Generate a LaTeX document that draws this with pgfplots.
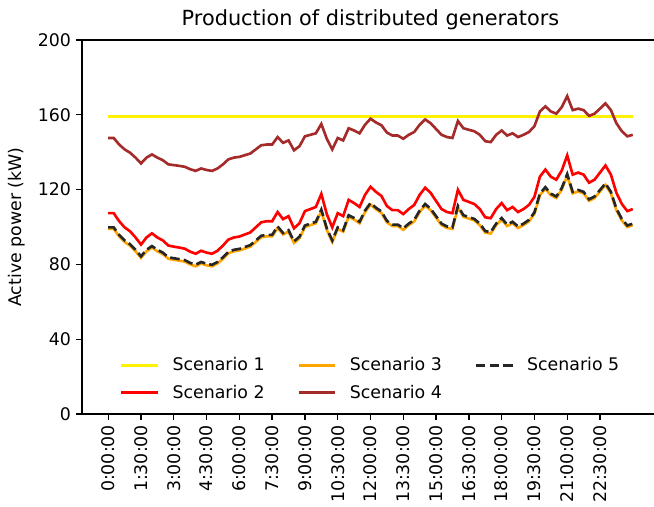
\documentclass[border=0pt]{standalone}
\usepackage{pgfplots}
\pgfplotsset{compat=1.18}
\usepackage{pgfplotstable}
\usepackage{fontspec}
\setmainfont{DejaVu Sans}

\definecolor{mplorange}{HTML}{FFA500}
\definecolor{mplbrown}{HTML}{A52A2A}

\pgfplotstableread{
i s1 s2 s3 s4 s5
0 159 107.4 99 147.6 99.8
1 159 107.4 99 147.6 99.8
2 159 103.1 95 144.1 95.8
3 159 99.8 92 141.5 92.8
4 159 97.7 90 139.7 90.8
5 159 94.4 87 137.1 87.8
6 159 90.6 83.5 134.0 84.3
7 159 94.4 87 137.1 87.8
8 159 96.6 89 138.8 89.8
9 159 94.4 87 137.1 87.8
10 159 92.8 85.5 135.7 86.3
11 159 90.1 83 133.5 83.8
12 159 89.5 82.5 133.1 83.3
13 159 89.0 82 132.7 82.8
14 159 88.4 81.5 132.2 82.3
15 159 86.8 80 130.9 80.8
16 159 85.7 79 130.0 79.8
17 159 87.3 80.5 131.3 81.3
18 159 86.3 79.5 130.5 80.3
19 159 85.7 79 130.0 79.8
20 159 87.3 80.5 131.3 81.3
21 159 90.1 83 133.5 83.8
22 159 93.3 86 136.2 86.8
23 159 94.4 87 137.1 87.8
24 159 94.9 87.5 137.5 88.3
25 159 96.0 88.5 138.4 89.3
26 159 97.1 89.5 139.3 90.3
27 159 99.8 92 141.5 92.8
28 159 102.5 94.5 143.7 95.3
29 159 103.1 95 144.1 95.8
30 159 103.1 95 144.1 95.8
31 159 108.0 99.5 148.1 100.3
32 159 104.2 96 145.0 96.8
33 159 105.8 97.5 146.3 98.3
34 159 99.3 91.5 141.0 92.3
35 159 102.0 94 143.2 94.8
36 159 108.5 100 148.5 100.8
37 159 109.6 101 149.3 101.8
38 159 110.7 102 150.1 102.8
39 159 117.7 108.5 155.1 109.3
40 159 106.9 98.5 147.2 99.3
41 159 99.8 92 141.5 92.8
42 159 107.4 99 147.6 99.8
43 159 105.8 97.5 146.3 98.3
44 159 114.5 105.5 152.8 106.3
45 159 112.8 104 151.6 104.8
46 159 110.7 102 150.1 102.8
47 159 117.2 108 154.7 108.8
48 159 121.5 112 157.9 112.8
49 159 118.8 109.5 155.9 110.3
50 159 116.6 107.5 154.4 108.3
51 159 111.2 102.5 150.5 103.3
52 159 109.0 100.5 148.9 101.3
53 159 109.0 100.5 148.9 101.3
54 159 106.9 98.5 147.2 99.3
55 159 109.6 101 149.3 101.8
56 159 111.8 103 150.8 103.8
57 159 117.2 108 154.7 108.8
58 159 121.0 111.5 157.5 112.3
59 159 118.3 109 155.5 109.8
60 159 113.9 105 152.4 105.8
61 159 109.6 101 149.3 101.8
62 159 108.0 99.5 148.1 100.3
63 159 107.4 99 147.6 99.8
64 159 119.9 110.5 156.7 111.3
65 159 114.5 105.5 152.8 106.3
66 159 113.4 104.5 152.0 105.3
67 159 112.3 103.5 151.2 104.3
68 159 109.6 101 149.3 101.8
69 159 105.2 97 145.9 97.8
70 159 104.7 96.5 145.4 97.3
71 159 109.6 101 149.3 101.8
72 159 112.8 104 151.6 104.8
73 159 109.0 100.5 148.9 101.3
74 159 110.7 102 150.1 102.8
75 159 108.0 99.5 148.1 100.3
76 159 109.6 101 149.3 101.8
77 159 111.8 103 150.8 103.8
78 159 116.1 107 153.9 107.8
79 159 126.9 117 161.8 117.8
80 159 130.7 120.5 164.5 121.3
81 159 126.9 117 161.8 117.8
82 159 125.3 115.5 160.6 116.3
83 159 130.2 120 164.1 120.8
84 159 138.3 127.5 170.0 128.3
85 159 128.0 118 162.5 118.8
86 159 129.1 119 163.3 119.8
87 159 128.0 118 162.5 118.8
88 159 123.7 114 159.4 114.8
89 159 125.3 115.5 160.6 116.3
90 159 129.1 119 163.3 119.8
91 159 132.9 122.5 166.1 123.3
92 159 128.0 118 162.5 118.8
93 159 118.3 109 155.5 109.8
94 159 112.3 103.5 151.2 104.3
95 159 108.5 100 148.5 100.8
96 159 109.6 101 149.3 101.8
}\data

\begin{document}
\begin{tikzpicture}[x=1pt,y=1pt]
\useasboundingbox (-59.04,-66.24) rectangle (411.84,298.08);
\clip (-59.04,-66.24) rectangle (411.84,298.08);
\begin{axis}[
  at={(0,0)}, anchor=south west,
  scale only axis, width=415.44pt, height=269.28pt,
  xmin=-4.8, xmax=100.8, ymin=0, ymax=200,
  xtick={0,6,...,90},
  xticklabels={0:00:00,1:30:00,3:00:00,4:30:00,6:00:00,7:30:00,9:00:00,10:30:00,12:00:00,13:30:00,15:00:00,16:30:00,18:00:00,19:30:00,21:00:00,22:30:00},
  ytick={0,40,...,200},
  tick align=outside, tick pos=left,
  major tick length=4.4pt,
  every tick/.style={black, line width=1pt},
  axis line style={line width=1pt},
  /pgf/number format/assume math mode=true,
  x tick label style={rotate=90, anchor=east, font=\fontsize{12.5}{15}\selectfont},
  y tick label style={font=\fontsize{12.5}{15}\selectfont},
  ylabel={Active power (kW)},
  ylabel style={font=\fontsize{12.5}{15}\selectfont, at={(axis description cs:-0.1127,0.5)}, anchor=center},
  title={Production of distributed generators},
  title style={font=\fontsize{15}{18}\selectfont, yshift=-2pt},
  legend columns=3,
  legend cell align=left,
  legend style={draw=none, fill=none, at={(0.058,0.166)}, anchor=north west,
    font=\fontsize{12.5}{15}\selectfont,
    /tikz/every odd column/.append style={column sep=7.5pt},
    /tikz/every even column/.append style={column sep=21.5pt},
    row sep=4.5pt},
  legend image code/.code={\draw[#1] (0pt,0pt) -- (26.5pt,0pt);},
]
\addplot[yellow, line width=1.9pt, forget plot] table[x=i, y=s1] {\data};
\addplot[red, line width=1.9pt, forget plot] table[x=i, y=s2] {\data};
\addplot[mplorange, line width=1.9pt, forget plot] table[x=i, y=s3] {\data};
\addplot[mplbrown, line width=1.9pt, forget plot] table[x=i, y=s4] {\data};
\addplot[black!85, line width=1.9pt, dash pattern=on 6.9pt off 3pt, forget plot] table[x=i, y=s5] {\data};
\addlegendimage{yellow, line width=1.9pt}
\addlegendentry{Scenario 1}
\addlegendimage{mplorange, line width=1.9pt}
\addlegendentry{Scenario 3}
\addlegendimage{black!85, line width=1.9pt, dash pattern=on 6.9pt off 3pt}
\addlegendentry{Scenario 5}
\addlegendimage{red, line width=1.9pt}
\addlegendentry{Scenario 2}
\addlegendimage{mplbrown, line width=1.9pt}
\addlegendentry{Scenario 4}
\end{axis}
\end{tikzpicture}
\end{document}
